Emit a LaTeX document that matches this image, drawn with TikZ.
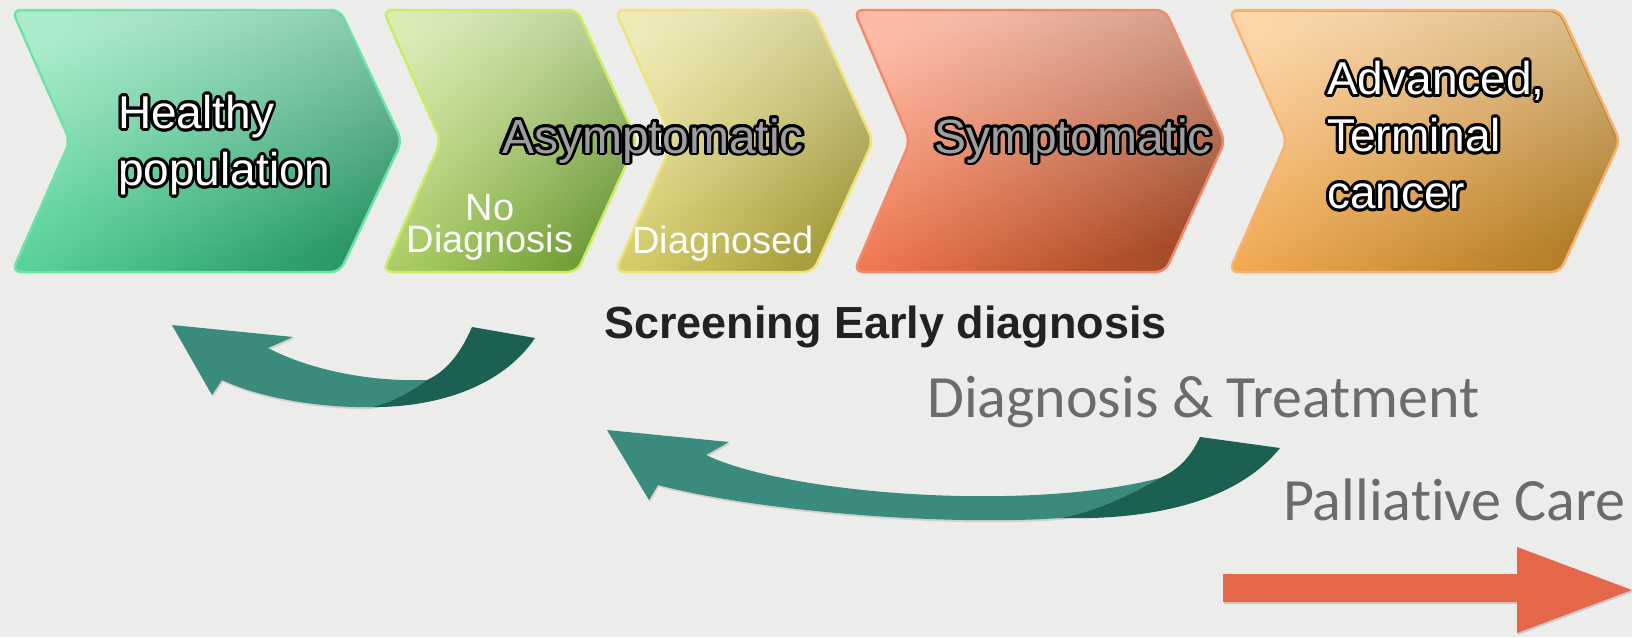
\documentclass[tikz,border=0pt]{standalone}
\usepackage{fontspec}
\setmainfont{Liberation Sans}
\newfontfamily\thinsans[Ligatures={NoCommon,NoDiscretionary,NoRare}]{Carlito}
\usepackage{contour}
\contourlength{2.8pt}
\usetikzlibrary{shadows,fadings}

\definecolor{paper}{HTML}{ECECEA}
\definecolor{tealA}{HTML}{3A8B7D}
\definecolor{tealB}{HTML}{1C5F53}
\definecolor{redarrow}{HTML}{E4674A}
\definecolor{fillgray}{HTML}{9E9E9E}
\definecolor{inkdark}{HTML}{222222}
\definecolor{inkgray}{HTML}{6B6B6B}
% stage colours: border, bright, dark
\definecolor{HealthyB}{HTML}{6FE3A6}\definecolor{HealthyM}{HTML}{46D38E}\definecolor{HealthyD}{HTML}{2A9566}
\definecolor{NodiagB}{HTML}{C8EC62}\definecolor{NodiagM}{HTML}{ADD45A}\definecolor{NodiagD}{HTML}{6A9634}
\definecolor{DiagB}{HTML}{ECE47A}\definecolor{DiagM}{HTML}{DCD160}\definecolor{DiagD}{HTML}{9E9636}
\definecolor{SymptB}{HTML}{F2896A}\definecolor{SymptM}{HTML}{F86A3C}\definecolor{SymptD}{HTML}{A04A28}
\definecolor{AdvB}{HTML}{F8B272}\definecolor{AdvM}{HTML}{F7A23E}\definecolor{AdvD}{HTML}{B07E28}

\tikzfading[name=topglow, top color=transparent!45, middle color=transparent!100, bottom color=transparent!100]

\begin{document}
\begin{tikzpicture}[x=1pt, y=-1pt,
  chev/.style n args={3}{rounded corners=9pt, left color=#2, middle color=#2, right color=#3, shading angle=75,
    postaction={fill=white, path fading=topglow, fading angle=20}, postaction={draw=#1, line width=2.5pt}},
  bigtxt/.style={font=\fontsize{46}{57}\selectfont, inner sep=0pt, align=left},
  smalltxt/.style={font=\fontsize{38}{32}\selectfont, text=white, inner sep=0pt, align=center},
  softtxt/.style={font=\thinsans\fontsize{60}{70}\selectfont, text=inkgray, inner sep=0pt},
  ribbon/.style={fill=tealA, drop shadow={shadow xshift=1pt, shadow yshift=-2pt, opacity=0.25}},
  ribbonback/.style={fill=tealB}
]
\fill[paper] (0,0) rectangle (1632,637);
\useasboundingbox (0,0) rectangle (1632,637);

% stages
\path[chev={HealthyB}{HealthyM}{HealthyD}] (12,10) -- (340,10) -- (402,141) -- (340,272) -- (12,272) -- (70,141) -- cycle;
\path[chev={NodiagB}{NodiagM}{NodiagD}] (383,10) -- (577,10) -- (637,141) -- (577,272) -- (383,272) -- (441,141) -- cycle;
\path[chev={DiagB}{DiagM}{DiagD}] (615,10) -- (813,10) -- (873,141) -- (813,272) -- (615,272) -- (673,141) -- cycle;
\path[chev={SymptB}{SymptM}{SymptD}] (854,10) -- (1165,10) -- (1225,141) -- (1165,272) -- (854,272) -- (910,141) -- cycle;
\path[chev={AdvB}{AdvM}{AdvD}] (1229,10) -- (1560,10) -- (1620,141) -- (1560,272) -- (1229,272) -- (1287,141) -- cycle;

\node[bigtxt, text=white, anchor=north west] (healthy) at (118,95) {\contour{black}{Healthy}\\\contour{black}{population}};
\node[bigtxt, text=fillgray, font=\fontsize{48}{57}\selectfont, anchor=base] (asym) at (653,153) {\contour{black}{Asymptomatic}};
\node[bigtxt, text=fillgray, font=\fontsize{48}{57}\selectfont, anchor=base] (sympt) at (1073,153) {\contour{black}{Symptomatic}};
\node[bigtxt, text=white, anchor=north west] (adv) at (1327,61) {\contour{black}{Advanced,}\\\contour{black}{Terminal}\\\contour{black}{cancer}};
\node[smalltxt, anchor=north] (nodiag) at (490,194) {No\\Diagnosis};
\node[smalltxt, anchor=base west] (diag) at (632,253) {Diagnosed};

% care labels
\node[font=\bfseries\fontsize{45}{54}\selectfont, text=inkdark, inner sep=0pt, anchor=base west] (screen) at (604,338) {Screening Early diagnosis};
\node[softtxt, anchor=base west] (treat) at (927,417) {Diagnosis \& Treatment};
\node[softtxt, anchor=base west] (palli) at (1283,520) {Palliative Care};

% return arrows
\path[ribbon] (172,325) -- (293,337) -- (268,348) .. controls (310,370) and (370,382) .. (427,380)
  .. controls (410,392) and (390,404) .. (370,407) .. controls (320,408) and (260,398) .. (222,380)
  -- (212,395) -- cycle;
\path[ribbonback] (472,327) -- (535,338) .. controls (500,390) and (430,408) .. (370,407)
  .. controls (390,404) and (410,392) .. (427,380) .. controls (445,372) and (460,355) .. (472,327) -- cycle;

\path[ribbon] (607,430) -- (729,442) -- (706,455) .. controls (790,495) and (1030,512) .. (1160,478)
  .. controls (1130,495) and (1095,512) .. (1060,518) .. controls (950,526) and (760,512) .. (658,485)
  -- (649,500) -- cycle;
\path[ribbonback] (1200,437) -- (1280,448) .. controls (1230,510) and (1130,520) .. (1060,518)
  .. controls (1095,512) and (1130,495) .. (1160,478) .. controls (1178,470) and (1190,458) .. (1200,437) -- cycle;

% palliative arrow
\path[fill=redarrow, drop shadow={shadow xshift=1pt, shadow yshift=-2pt, opacity=0.3}]
  (1223,574) -- (1517,574) -- (1517,547) -- (1632,590) -- (1517,633) -- (1517,602) -- (1223,602) -- cycle;
\end{tikzpicture}
\end{document}
